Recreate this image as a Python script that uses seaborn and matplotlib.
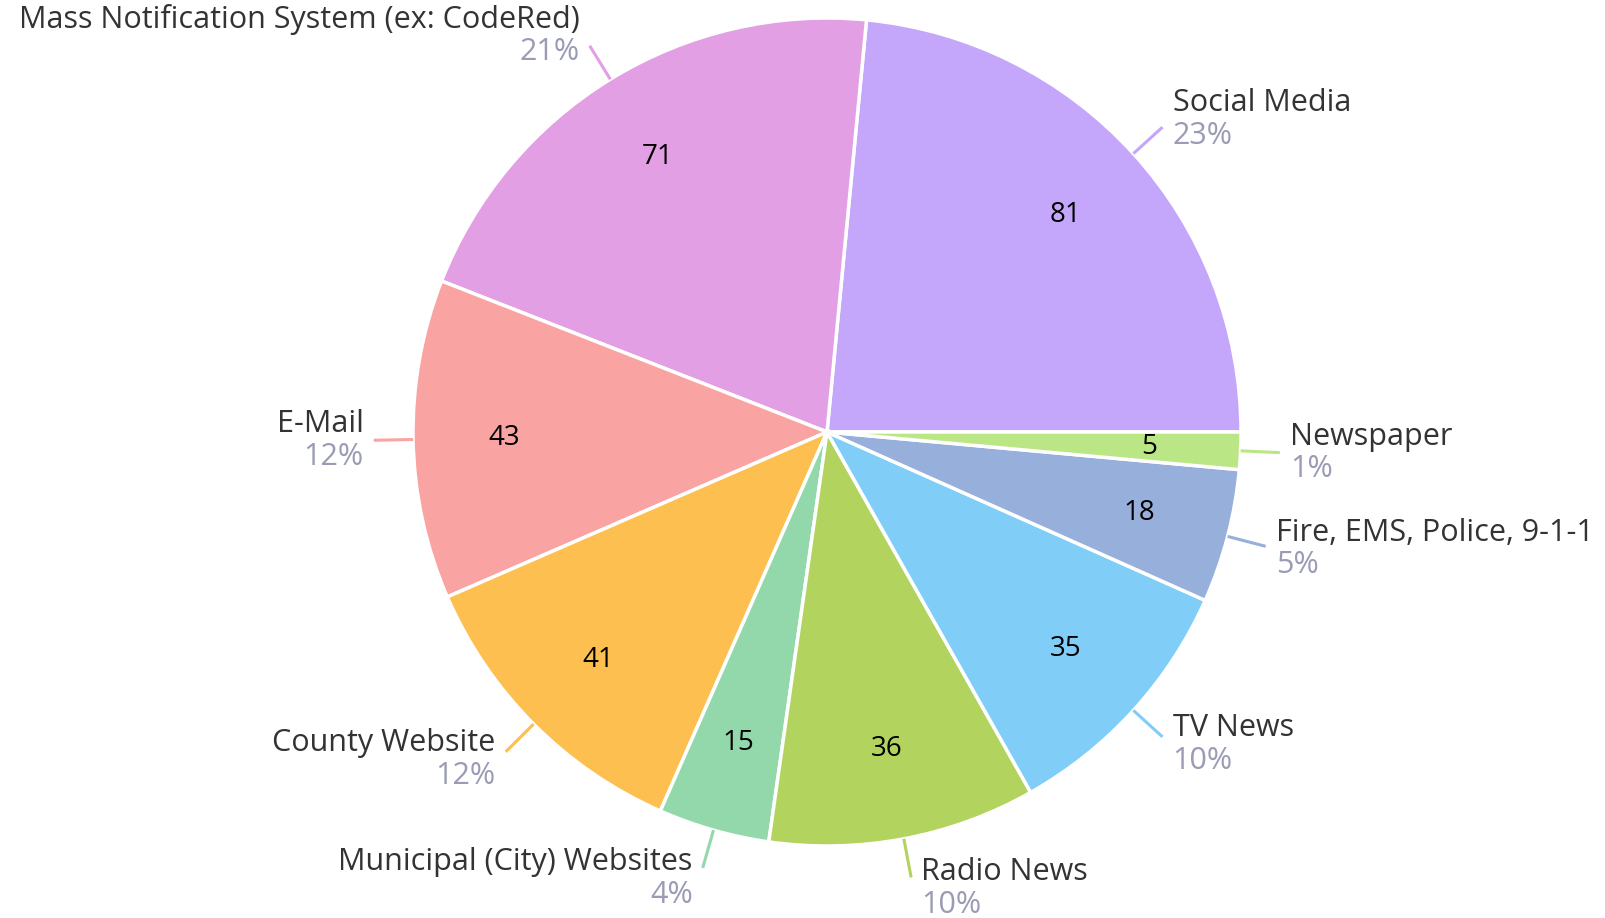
import numpy as np
import matplotlib
matplotlib.use("Agg")
import matplotlib.pyplot as plt
import seaborn as sns

# --- dane ---
labels = ["Social Media", "Mass Notification System (ex: CodeRed)", "E-Mail",
          "County Website", "Municipal (City) Websites", "Radio News",
          "TV News", "Fire, EMS, Police, 9-1-1", "Newspaper"]
counts = [81, 71, 43, 41, 15, 36, 35, 18, 5]
colors = ["#c4a7fb", "#e29fe4", "#faa3a3", "#fdbf50", "#93d8ab",
          "#b2d45f", "#80cdf8", "#97afdb", "#bbe686"]

sns.set_style("white")
plt.rcParams['font.family'] = ['Open Sans', 'DejaVu Sans']

fig = plt.figure(figsize=(16.05, 9.18), dpi=100)
ax = fig.add_axes([0, 0, 1, 1])

# pie in pixel units
cx, cy, R = 827, 486, 414
total = sum(counts)

wedges, _, autotexts = ax.pie(
    counts, colors=colors, startangle=0, counterclock=True,
    center=(cx, cy), radius=R,
    autopct=lambda p: f"{p * total / 100:.0f}", pctdistance=0.78,
    wedgeprops=dict(edgecolor="white", linewidth=2.5),
    textprops=dict(fontsize=20, color="black"))

# leader lines + labels
for w, lab, n, c in zip(wedges, labels, counts, colors):
    ang = np.deg2rad((w.theta1 + w.theta2) / 2)
    co, si = np.cos(ang), np.sin(ang)
    x0, y0 = cx + R * co, cy + R * si
    x1, y1 = cx + 1.095 * R * co, cy + 1.095 * R * si
    ax.plot([x0, x1], [y0, y1], color=c, lw=2.2, solid_capstyle="butt")
    ha = "left" if co > 0 else "right"
    tx = x1 + (10 if co > 0 else -10)
    ny = y1 + 16.4 + 11.3 * si
    ax.text(tx, ny, lab, ha=ha, va="center", fontsize=22, color="#333333")
    ax.text(tx, ny - 32.7, f"{n / total * 100:.0f}%", ha=ha, va="center",
            fontsize=22, color="#9a9bb4")

ax.set_xlim(0, 1605)
ax.set_ylim(0, 918)
ax.set_aspect("equal")
ax.axis("off")

fig.savefig("out.png", dpi=100, facecolor="white")
